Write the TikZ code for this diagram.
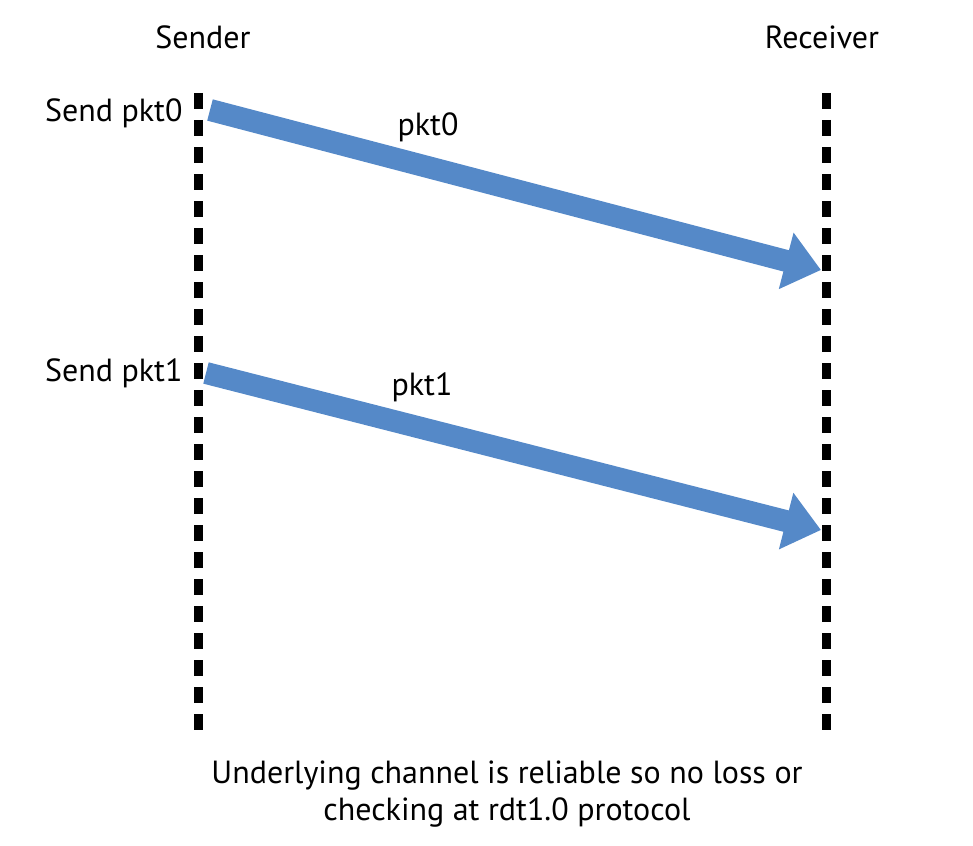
\documentclass[tikz,border=0pt]{standalone}
\usepackage{fontspec}
\setmainfont{PT Sans}
\usetikzlibrary{arrows.meta}
\definecolor{pktblue}{RGB}{85,137,200}

\begin{document}
\begin{tikzpicture}[x=1pt,y=-1pt, font=\fontsize{32}{37}\selectfont, line join=round]
	\tikzset{lifeline/.style={line width=9pt, dash pattern=on 16pt off 11pt},
		pkt/.style={pktblue, line width=22pt, -{Triangle[width=56pt,length=36pt]}}}
	\def\xs{198} \def\xr{826} % lifelines
	\def\ytop{93} \def\ybot{733}
	\useasboundingbox (0,0) rectangle (973,845);
	% ends
	\node (sender) at (203,37) {Sender};
	\node (receiver) at (822,37) {Receiver};
	\coordinate (s top) at (\xs,\ytop); \coordinate (s bot) at (\xs,\ybot);
	\coordinate (r top) at (\xr,\ytop); \coordinate (r bot) at (\xr,\ybot);
	\draw[lifeline] (s top) -- (s bot);
	\draw[lifeline] (r top) -- (r bot);
	% packets
	\coordinate (out0) at (210,110); \coordinate (in0) at (821,270);
	\coordinate (out1) at (206,373); \coordinate (in1) at (821,530);
	\draw[pkt] (out0) -- (in0);
	\draw[pkt] (out1) -- (in1);
	\node[left] (send0) at (186,113) {Send pkt0};
	\node[left] (send1) at (186,373) {Send pkt1};
	\node (lbl0) at (428,127) {pkt0};
	\node (lbl1) at (422,387) {pkt1};
	\node[align=center] (note) at (507,794) {Underlying channel is reliable so no loss or\\checking at rdt1.0 protocol};
\end{tikzpicture}
\end{document}
